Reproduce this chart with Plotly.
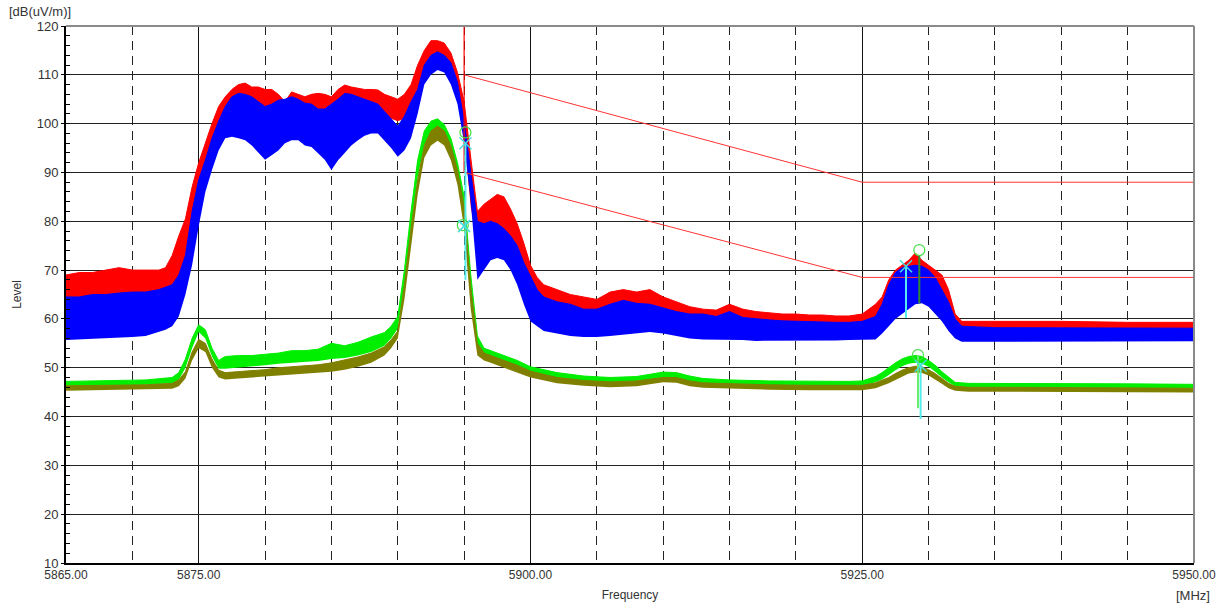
import plotly.graph_objects as go

# ---------------- data ----------------
# high traces (red = peak, blue = second detector): band envelopes in dB(uV/m)
F_HI = [5865, 5866, 5867, 5868, 5869, 5870, 5871, 5872, 5872.5, 5873, 5873.5, 5874, 5874.5,
        5875, 5875.5, 5876, 5876.5, 5877, 5877.5, 5878, 5878.5, 5879, 5879.5, 5880, 5880.5,
        5881, 5881.5, 5882, 5882.5, 5883, 5883.5, 5884, 5884.5, 5885, 5885.5, 5886, 5886.5,
        5887, 5887.5, 5888, 5888.5, 5889, 5889.5, 5890, 5890.5, 5891, 5891.5, 5892, 5892.5,
        5893, 5893.5, 5894, 5894.5, 5895, 5895.5, 5896, 5896.5, 5897, 5897.5, 5898, 5898.5,
        5899, 5899.5, 5900, 5900.5, 5901, 5902, 5903, 5904, 5905, 5906, 5907, 5908, 5909,
        5910, 5911, 5912, 5913, 5914, 5915, 5916, 5917, 5918, 5919, 5920, 5921, 5922, 5923,
        5924, 5925, 5926, 5926.5, 5927, 5927.5, 5928, 5928.5, 5929, 5929.5, 5930, 5930.5,
        5931, 5931.5, 5932, 5932.5, 5935, 5940, 5945, 5950]
RED_HI = [69, 69.5, 69.5, 70, 70.5, 70, 70, 70, 70.5, 73, 77, 80.5, 87,
          92, 96, 100, 103.5, 105.5, 107, 108, 108.3, 107.5, 107.5, 107, 107,
          106, 104.5, 106.5, 106, 105.5, 106, 106.2, 106, 105.5, 107, 107.9, 107.5,
          107.2, 107, 107, 106.9, 106, 105.5, 105, 106, 108, 112, 115, 117,
          117, 116.5, 114.5, 110.5, 104.5, 93, 82, 83.5, 84.5, 85.5, 85, 82.5,
          79.5, 75.5, 71, 68.5, 67, 66, 65, 64.5, 64, 65.5, 66, 65.5, 66,
          64.5, 63.5, 62.5, 62, 61.8, 63, 62, 61.5, 61.2, 61, 61, 60.8, 60.8, 60.6,
          60.6, 61, 63, 64.5, 68, 70, 71, 72, 73.5, 72, 71, 70,
          69, 66, 61, 59.5, 59.5, 59.5, 59.3, 59.3]
RED_LO = [62, 62, 62.5, 63, 63, 63, 63, 63.5, 64, 65, 67, 71, 77,
          84, 89, 93, 96, 98, 99, 100, 100, 100, 99.5, 99, 99.5,
          100, 100, 100.5, 100.5, 100, 100, 99.5, 99, 98.5, 99.5, 100.5, 101,
          101, 101.5, 101.5, 101.5, 101, 101, 100.5, 101, 102.5, 106, 109, 111.5,
          112, 111, 109, 105, 97, 83, 75, 75, 76, 76.5, 76, 74.5,
          72, 68, 64, 62, 61, 60, 59.5, 59, 59, 59.5, 60, 60, 60,
          59.5, 59, 58.5, 58.3, 58.2, 58.2, 58, 57.8, 57.8, 57.7, 57.7, 57.7, 57.7, 57.7,
          57.7, 57.8, 58, 59, 60, 61.5, 62.5, 63.5, 64, 64, 63.5, 62.5,
          61, 59, 57.5, 57, 57, 57, 57, 57]
BLUE_HI = [64.5, 64.5, 65, 65, 65.3, 65.5, 65.5, 66, 66.5, 67, 69, 73, 82,
           88.5, 92.5, 97, 100.5, 103.5, 105.5, 106.2, 106, 105.5, 104.5, 103.5, 104,
           104.8, 105, 105.5, 105, 104.2, 104, 103, 103, 104, 105, 106.2, 106,
           105.5, 105, 104.5, 104, 102.5, 101, 99.5, 101.5, 104.5, 107, 112, 114,
           114.7, 114, 112.5, 108.5, 100.5, 90, 80, 79.5, 80, 79.5, 78.5, 77,
           75, 71.5, 68.6, 66, 64.5, 63.5, 63, 62, 62, 63, 63.8, 63.2, 63,
           62.2, 61.5, 61, 61, 60.5, 61.5, 60.3, 60, 59.8, 59.6, 59.5, 59.5, 59.3, 59.3,
           59.3, 59.5, 60.5, 63, 67, 69.5, 70.5, 70.8, 71, 70.8, 70, 68.5,
           66, 63.5, 60, 58.5, 58.2, 58.2, 58.1, 58.1]
BLUE_LO = [55.7, 55.8, 56, 56, 56.2, 56.3, 56.5, 57.3, 57.8, 58.5, 60.5, 65, 71,
           79, 86, 90.5, 94.5, 97, 97.3, 97, 96.6, 95.5, 94, 92.6, 93.5,
           94.5, 96, 96.6, 96.6, 95.5, 95.2, 94, 92.6, 90.5, 92.5, 94, 95.5,
           96.6, 97.5, 98, 98, 96.5, 95, 93.2, 94.5, 97, 102, 108, 110,
           111, 110.5, 108, 104, 96, 84, 68, 70, 72, 72.5, 72, 70,
           67, 63, 59.5, 58.5, 57.5, 57, 56.5, 56.3, 56.3, 56.5, 56.8, 57, 57.3,
           57, 56.5, 56, 55.8, 55.8, 55.7, 55.7, 55.5, 55.5, 55.5, 55.5, 55.6, 55.6, 55.6,
           55.7, 55.7, 55.8, 57, 58.5, 60, 61, 62, 63, 63.2, 62.5, 61,
           59.5, 57.5, 56, 55.3, 55.3, 55.3, 55.3, 55.4]

# low traces (green = average, olive = second average)
F_LO = [5865, 5868, 5871, 5873, 5873.5, 5874, 5874.5, 5875, 5875.5, 5876, 5876.5, 5877,
        5878, 5879, 5880, 5881, 5882, 5883, 5884, 5885, 5886, 5887, 5888, 5889, 5889.5,
        5890, 5890.5, 5891, 5891.5, 5892, 5892.5, 5893, 5893.5, 5894, 5894.5, 5895,
        5895.5, 5896, 5896.5, 5897, 5898, 5899, 5900, 5902, 5904, 5906, 5908, 5909, 5910,
        5911, 5912, 5913, 5915, 5918, 5921, 5924, 5925, 5926, 5926.5, 5927, 5927.5, 5928,
        5928.5, 5929, 5929.5, 5930, 5930.5, 5931, 5931.5, 5932, 5933, 5936, 5940, 5945, 5950]
GREEN_HI = [47.2, 47.3, 47.5, 48.0, 49.0, 51.8, 56.0, 58.8, 57.8, 54.0, 51.5, 52.3,
            52.5, 52.5, 52.8, 53.0, 53.5, 53.5, 53.8, 55.0, 54.5, 55.2, 56.3, 57.2, 58.5,
            60.5, 70.0, 82.0, 92.5, 98.5, 100.5, 101.0, 99.8, 97.0, 92.0, 85.0,
            69.0, 56.5, 54.0, 53.5, 52.5, 51.5, 50.2, 49.0, 48.3, 48.0, 48.2, 48.6, 49.1,
            49.0, 48.3, 47.8, 47.5, 47.3, 47.2, 47.2, 47.3, 48.2, 49.0, 50.0, 51.0, 51.8,
            52.3, 52.5, 52.3, 51.5, 50.5, 49.2, 48.0, 47.0, 46.8, 46.8, 46.7, 46.7, 46.6]
GREEN_LO = [46.2, 46.3, 46.5, 46.8, 47.5, 50.0, 54.0, 57.3, 56.0, 52.3, 49.8, 49.8,
            50.0, 50.2, 50.5, 50.8, 51.0, 51.2, 51.4, 51.8, 52.0, 52.5, 53.2, 54.5, 56.0,
            58.0, 67.0, 78.5, 89.0, 95.5, 97.5, 98.0, 97.0, 94.0, 89.0, 80.5,
            64.0, 54.0, 52.5, 52.0, 51.0, 50.0, 49.0, 47.8, 47.2, 47.0, 47.2, 47.5, 48.0,
            47.9, 47.2, 46.8, 46.6, 46.4, 46.3, 46.2, 46.3, 47.0, 47.6, 48.5, 49.5, 50.3,
            50.8, 51.0, 50.8, 50.2, 49.2, 48.0, 47.0, 46.2, 46.0, 45.9, 45.9, 45.9, 45.8]
OLIVE_HI = [46.3, 46.4, 46.5, 46.8, 47.5, 49.2, 53.2, 55.8, 55.0, 51.8, 49.5, 49.0,
            49.2, 49.4, 49.6, 50.0, 50.2, 50.4, 50.6, 51.0, 51.6, 52.2, 53.0, 54.3, 55.7,
            57.5, 67.0, 78.5, 88.5, 95.5, 98.5, 99.5, 98.5, 95.5, 90.5, 83.0,
            66.5, 55.0, 53.0, 52.5, 51.5, 50.5, 49.3, 48.0, 47.4, 47.1, 47.3, 47.6, 48.0,
            48.0, 47.3, 46.9, 46.7, 46.5, 46.4, 46.3, 46.4, 46.9, 47.4, 48.0, 48.8, 49.5,
            50.0, 50.3, 50.2, 49.6, 48.8, 47.8, 46.8, 46.2, 46.0, 46.0, 45.9, 45.9, 45.8]
OLIVE_LO = [45.3, 45.4, 45.5, 45.7, 46.2, 47.8, 51.5, 54.0, 53.2, 50.0, 48.0, 47.6,
            47.8, 48.0, 48.2, 48.5, 48.7, 48.8, 49.0, 49.2, 49.6, 50.2, 51.0, 52.5, 54.0,
            56.0, 64.0, 75.0, 85.5, 93.0, 95.5, 96.5, 95.5, 92.5, 87.5, 78.5,
            62.0, 52.5, 51.5, 51.0, 50.0, 49.0, 48.0, 46.8, 46.3, 46.0, 46.2, 46.6, 47.0,
            46.9, 46.2, 45.9, 45.7, 45.5, 45.4, 45.3, 45.4, 45.8, 46.3, 46.8, 47.5, 48.2,
            48.8, 49.0, 48.9, 48.4, 47.6, 46.7, 45.8, 45.3, 45.1, 45.1, 45.0, 45.0, 44.9]

# limit lines
LIM_F = [5895, 5925, 5950]
LIMIT1 = [110, 88, 88]
LIMIT2 = [90, 68.5, 68.5]
LIM_VERT_F = [5895, 5895]
LIM_VERT_V = [120, 90]

# marker points
CIRCLE_F = [5895.1, 5894.9, 5929.3, 5929.2]
CIRCLE_V = [98.2, 79.2, 74.1, 52.6]
CROSS_F = [5895.1, 5895.0, 5928.3, 5929.4]
CROSS_V = [96.0, 79.0, 70.8, 50.4]
# marker stems (frequency, top, bottom)
CYAN_STEM_F = [5895.1, 5928.3, 5929.4]
CYAN_STEM_TOP = [96.0, 70.6, 51.0]
CYAN_STEM_BOT = [68.0, 60.2, 39.5]
GREEN_STEM_F = [5929.3, 5929.2]
GREEN_STEM_TOP = [73.0, 52.6]
GREEN_STEM_BOT = [63.2, 41.7]
GREEN_STEM_COL = ["#2e8b2e", "#66ee66"]

X_TICKS = [5865, 5875, 5900, 5925, 5950]
X_TICKTEXT = ["5865.00", "5875.00", "5900.00", "5925.00", "5950.00"]

FONT = "Liberation Sans"
TXT = "#333333"

fig = go.Figure()


def band(x, lo, hi, color):
    fig.add_trace(go.Scatter(x=x, y=lo, mode="lines", line=dict(width=0, color=color),
                             hoverinfo="skip", showlegend=False))
    fig.add_trace(go.Scatter(x=x, y=hi, mode="lines", fill="tonexty", fillcolor=color,
                             line=dict(width=1, color=color), showlegend=False))


band(F_HI, RED_LO, RED_HI, "#ff0000")
band(F_HI, BLUE_LO, BLUE_HI, "#0000ff")
band(F_LO, GREEN_LO, GREEN_HI, "#00ee00")
band(F_LO, OLIVE_LO, OLIVE_HI, "#808000")

# limit lines
fig.add_trace(go.Scatter(x=LIM_F, y=LIMIT1, mode="lines", line=dict(color="#ff3333", width=1),
                         showlegend=False))
fig.add_trace(go.Scatter(x=LIM_F, y=LIMIT2, mode="lines", line=dict(color="#ff3333", width=1),
                         showlegend=False))
fig.add_trace(go.Scatter(x=LIM_VERT_F, y=LIM_VERT_V, mode="lines", line=dict(color="#ff0000", width=1.2),
                         showlegend=False))

# stems
for f, t, b in zip(CYAN_STEM_F, CYAN_STEM_TOP, CYAN_STEM_BOT):
    fig.add_trace(go.Scatter(x=[f, f], y=[t, b], mode="lines", line=dict(color="#55eeee", width=2),
                             showlegend=False))
for f, t, b, c in zip(GREEN_STEM_F, GREEN_STEM_TOP, GREEN_STEM_BOT, GREEN_STEM_COL):
    fig.add_trace(go.Scatter(x=[f, f], y=[t, b], mode="lines", line=dict(color=c, width=2),
                             showlegend=False))

fig.add_trace(go.Scatter(x=CIRCLE_F, y=CIRCLE_V, mode="markers",
                         marker=dict(symbol="circle-open", size=11, color="#44dd44", line=dict(width=1.2)),
                         showlegend=False))
fig.add_trace(go.Scatter(x=CROSS_F, y=CROSS_V, mode="markers",
                         marker=dict(symbol="x-thin-open", size=12, color="#44dddd", line=dict(width=1.5, color="#44dddd")),
                         showlegend=False))

fig.update_layout(
    width=1222, height=606,
    margin=dict(l=66, r=28, t=26, b=43, autoexpand=False),
    paper_bgcolor="white", plot_bgcolor="white",
    font=dict(family=FONT, size=12, color=TXT),
    showlegend=False,
    xaxis=dict(
        range=[5865, 5950], tickmode="array", tickvals=X_TICKS, ticktext=X_TICKTEXT,
        showgrid=True, gridcolor="#111111", gridwidth=1,
        showline=True, linecolor="black", linewidth=2,
        ticks="", zeroline=False, automargin=False,
        title=dict(text="Frequency", font=dict(size=12, color=TXT), standoff=9),
        minor=dict(tickmode="linear", tick0=5865, dtick=5, showgrid=True,
                   gridcolor="#222222", gridwidth=1, griddash="9px,6px", ticks=""),
    ),
    yaxis=dict(
        range=[10, 120], tickmode="linear", tick0=10, dtick=10,
        showgrid=True, gridcolor="#222222", gridwidth=1,
        showline=True, linecolor="black", linewidth=2,
        ticks="outside", ticklen=3, tickcolor="black", zeroline=False, automargin=False,
        tickfont=dict(size=13),
        title=dict(text="Level", font=dict(size=12, color=TXT), standoff=12),
        minor=dict(tickmode="linear", tick0=10, dtick=2, ticks="inside", ticklen=4,
                   tickcolor="black", showgrid=False),
    ),
    shapes=[
        dict(type="line", xref="paper", yref="paper", x0=0, x1=1, y0=1, y1=1,
             line=dict(color="#8a8a8a", width=2)),
        dict(type="line", xref="paper", yref="paper", x0=1, x1=1, y0=0, y1=1,
             line=dict(color="#8a8a8a", width=2)),
    ],
    annotations=[
        dict(text="[dB(uV/m)]", xref="paper", yref="paper", x=-0.052, y=1.0, yshift=15,
             xanchor="left", yanchor="middle", showarrow=False, font=dict(size=13, color=TXT)),
        dict(text="[MHz]", xref="paper", yref="paper", x=1.0, y=0, yshift=-32, xshift=18,
             xanchor="right", yanchor="middle", showarrow=False, font=dict(size=13, color=TXT)),
    ],
)

fig.write_html("out.html", config={"displayModeBar": False},
               post_script="document.body.style.margin='0';document.body.style.overflow='hidden';")
